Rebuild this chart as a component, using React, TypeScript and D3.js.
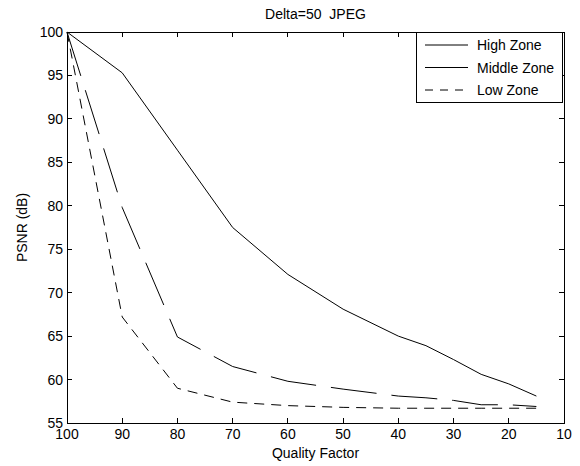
import React from "react";
import * as d3 from "d3";

const quality = [100, 90, 80, 70, 60, 50, 40, 35, 30, 25, 20, 15];
const highZone = [100, 95.3, 86.4, 77.5, 72.1, 68.1, 65.0, 63.9, 62.3, 60.6, 59.5, 58.1];
const middleZone = [100, 79.8, 64.9, 61.5, 59.8, 58.9, 58.1, 57.9, 57.6, 57.1, 57.1, 56.9];
const lowZone = [100, 67.2, 59.0, 57.4, 57.0, 56.8, 56.7, 56.7, 56.7, 56.7, 56.7, 56.7];
const xTicks = [100, 90, 80, 70, 60, 50, 40, 30, 20, 10];
const yTicks = [55, 60, 65, 70, 75, 80, 85, 90, 95, 100];
const seriesNames = ["High Zone", "Middle Zone", "Low Zone"];

const W = 580, H = 466;
const L = 67, R = 564, T = 32, B = 423;
const FONT = "'Liberation Sans', Arial, Helvetica, sans-serif";

export default function App() {
  const x = d3.scaleLinear().domain([100, 10]).range([L, R]);
  const y = d3.scaleLinear().domain([55, 100]).range([B, T]);
  const line = d3
    .line<[number, number]>()
    .x((d) => x(d[0]))
    .y((d) => y(d[1]));
  const series = [
    { name: seriesNames[0], vals: highZone, dash: "none", legDash: "none" },
    { name: seriesNames[1], vals: middleZone, dash: "46,15", legDash: "46,15" },
    { name: seriesNames[2], vals: lowZone, dash: "10,7", legDash: "8,7" },
  ];
  const tick = 5;
  const legX = 416, legY = 32, legW = 146, legH = 70;
  return (
    <svg
      width={W}
      height={H}
      style={{ position: "absolute", left: 0, top: 0, background: "#fff" }}
      fontFamily={FONT}
    >
      <rect x={0} y={0} width={W} height={H} fill="#fff" />
      {series.map((s) => (
        <path
          key={s.name}
          d={line(quality.map((q, i) => [q, s.vals[i]] as [number, number])) || ""}
          fill="none"
          stroke="#000"
          strokeWidth={1}
          strokeDasharray={s.dash}
        />
      ))}
      <g shapeRendering="crispEdges">
        <rect x={L} y={T} width={R - L} height={B - T} fill="none" stroke="#000" strokeWidth={1} />
        {xTicks.map((t) => (
          <g key={"xt" + t}>
            <line x1={x(t)} x2={x(t)} y1={B} y2={B - tick} stroke="#000" />
            <line x1={x(t)} x2={x(t)} y1={T} y2={T + tick} stroke="#000" />
          </g>
        ))}
        {yTicks.map((t) => (
          <g key={"yt" + t}>
            <line x1={L} x2={L + tick} y1={y(t)} y2={y(t)} stroke="#000" />
            <line x1={R} x2={R - tick} y1={y(t)} y2={y(t)} stroke="#000" />
          </g>
        ))}
      </g>
      {xTicks.map((t) => (
        <text key={"xl" + t} x={x(t)} y={439} textAnchor="middle" fontSize={14} fill="#000">
          {t}
        </text>
      ))}
      {yTicks.map((t) => (
        <text key={"yl" + t} x={L - 4} y={y(t)} dy="0.36em" textAnchor="end" fontSize={14} fill="#000">
          {t}
        </text>
      ))}
      <text x={(L + R) / 2} y={19} textAnchor="middle" fontSize={14} fill="#000" xmlSpace="preserve">
        {"Delta=50  JPEG"}
      </text>
      <text x={(L + R) / 2} y={458} textAnchor="middle" fontSize={14} fill="#000">
        Quality Factor
      </text>
      <text
        transform={`translate(27,${(T + B) / 2}) rotate(-90)`}
        textAnchor="middle"
        fontSize={14}
        fill="#000"
      >
        PSNR (dB)
      </text>
      <rect
        x={legX}
        y={legY}
        width={legW}
        height={legH}
        fill="#fff"
        stroke="#000"
        strokeWidth={1}
        shapeRendering="crispEdges"
      />
      {series.map((s, i) => {
        const cy = legY + 13 + i * 22.5;
        return (
          <g key={"leg" + s.name}>
            <line x1={425} x2={468} y1={cy} y2={cy} stroke="#000" strokeDasharray={s.legDash} />
            <text x={477} y={cy} dy="0.36em" fontSize={14} fill="#000">
              {s.name}
            </text>
          </g>
        );
      })}
    </svg>
  );
}
